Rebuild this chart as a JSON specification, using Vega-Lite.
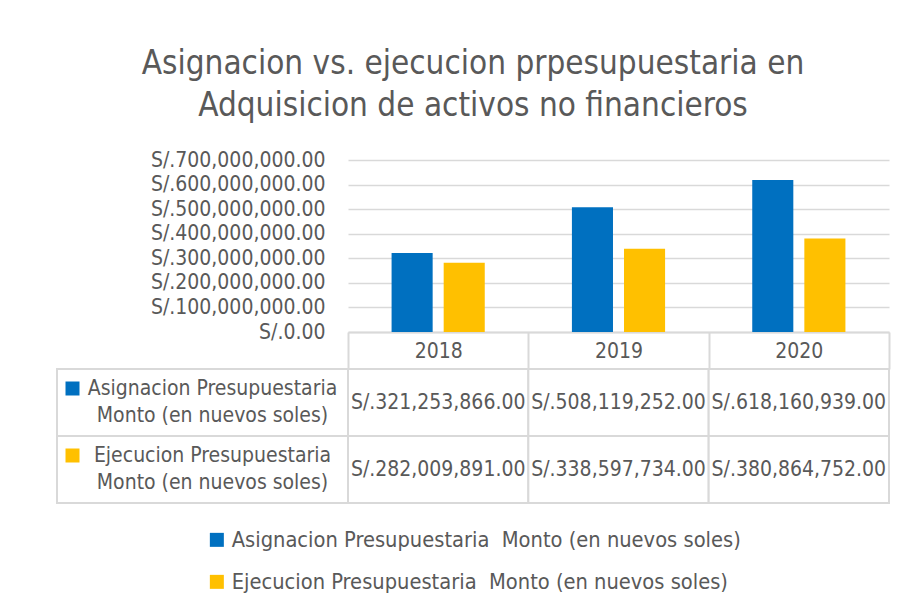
{
  "$schema": "https://vega.github.io/schema/vega-lite/v6.json",
  "background": "white",
  "padding": {"left": 56, "top": 48, "right": 13, "bottom": 8},
  "title": {
    "text": ["Asignacion vs. ejecucion prpesupuestaria en", "Adquisicion de activos no financieros"],
    "anchor": "middle",
    "fontSize": 33,
    "fontWeight": "normal",
    "color": "#595959",
    "lineHeight": 42,
    "offset": 26
  },
  "datasets": {
    "montos": [
      {"year": "2018", "serie": "Asignacion Presupuestaria \u00a0Monto (en nuevos soles)", "monto": 321253866},
      {"year": "2019", "serie": "Asignacion Presupuestaria \u00a0Monto (en nuevos soles)", "monto": 508119252},
      {"year": "2020", "serie": "Asignacion Presupuestaria \u00a0Monto (en nuevos soles)", "monto": 618160939},
      {"year": "2018", "serie": "Ejecucion Presupuestaria \u00a0Monto (en nuevos soles)", "monto": 282009891},
      {"year": "2019", "serie": "Ejecucion Presupuestaria \u00a0Monto (en nuevos soles)", "monto": 338597734},
      {"year": "2020", "serie": "Ejecucion Presupuestaria \u00a0Monto (en nuevos soles)", "monto": 380864752}
    ]
  },
  "data": {"name": "montos"},
  "columns": 2,
  "spacing": {"row": 37, "column": 0},
  "bounds": "flush",
  "concat": [
    {
      "width": 291,
      "height": 172,
      "transform": [{"filter": "datum.year == '2018' && datum.monto < 300000000"}],
      "mark": {"type": "text", "text": ""},
      "encoding": {}
    },
    {
      "width": 541,
      "height": 172,
      "mark": {"type": "bar"},
      "encoding": {
        "x": {
          "field": "year",
          "type": "nominal",
          "scale": {"paddingInner": 0, "paddingOuter": 0},
          "axis": {
            "title": null,
            "labelAngle": 0,
            "domainColor": "#D9D9D9",
            "domainWidth": 2,
            "ticks": true,
            "tickBand": "extent",
            "tickSize": 37,
            "tickColor": "#D9D9D9",
            "tickWidth": 2,
            "labelPadding": -18,
            "labelBaseline": "middle",
            "labelFontSize": 21,
            "labelColor": "#595959",
            "grid": false
          }
        },
        "xOffset": {
          "field": "serie",
          "type": "nominal",
          "scale": {"paddingInner": 0.2115, "paddingOuter": 0.8365}
        },
        "y": {
          "field": "monto",
          "type": "quantitative",
          "scale": {"domain": [0, 700000000], "nice": false},
          "axis": {
            "title": null,
            "values": [0, 100000000, 200000000, 300000000, 400000000, 500000000, 600000000, 700000000],
            "labelExpr": "'S/.' + format(datum.value, ',.2f')",
            "domain": false,
            "ticks": false,
            "grid": true,
            "gridColor": "#D9D9D9",
            "gridWidth": 1.5,
            "labelPadding": 23,
            "labelFontSize": 21,
            "labelColor": "#595959"
          }
        },
        "color": {
          "field": "serie",
          "type": "nominal",
          "scale": {"range": ["#0070C0", "#FFC000"]},
          "legend": {
            "title": null,
            "orient": "bottom",
            "direction": "vertical",
            "symbolType": "square",
            "symbolSize": 196,
            "symbolStrokeWidth": 0,
            "labelFontSize": 21.7,
            "labelColor": "#595959",
            "labelLimit": 0,
            "rowPadding": 19,
            "labelOffset": 4,
            "offset": 25
          }
        }
      }
    },
    {
      "width": 291,
      "height": 134,
      "transform": [{"filter": "datum.year == '2018'"}],
      "layer": [
        {
          "mark": {"type": "rect", "fill": "white", "stroke": "#D9D9D9", "strokeWidth": 2},
          "encoding": {
            "y": {"field": "serie", "type": "nominal", "axis": null, "scale": {"paddingInner": 0, "paddingOuter": 0}}
          }
        },
        {
          "mark": {
            "type": "text",
            "text": {"expr": "split(datum.serie, ' \u00a0')"},
            "fontSize": 21,
            "lineHeight": 27,
            "dx": 10,
            "dy": -14,
            "color": "#595959",
            "align": "center",
            "baseline": "middle"
          },
          "encoding": {
            "y": {"field": "serie", "type": "nominal", "axis": null}
          }
        },
        {
          "mark": {"type": "point", "shape": "square", "filled": true, "size": 196, "opacity": 1, "strokeWidth": 0},
          "encoding": {
            "y": {"field": "serie", "type": "nominal", "axis": null},
            "color": {"field": "serie", "type": "nominal"},
            "xOffset": {"value": -130},
            "yOffset": {"value": 19.5}
          }
        }
      ]
    },
    {
      "width": 541,
      "height": 134,
      "layer": [
        {
          "mark": {"type": "rect", "fill": "white", "stroke": "#D9D9D9", "strokeWidth": 2},
          "encoding": {
            "x": {"field": "year", "type": "nominal", "axis": null, "scale": {"paddingInner": 0, "paddingOuter": 0}},
            "y": {"field": "serie", "type": "nominal", "axis": null, "scale": {"paddingInner": 0, "paddingOuter": 0}}
          }
        },
        {
          "mark": {
            "type": "text",
            "text": {"expr": "'S/.' + format(datum.monto, ',.2f')"},
            "fontSize": 21,
            "color": "#595959",
            "align": "center",
            "baseline": "middle"
          },
          "encoding": {
            "x": {"field": "year", "type": "nominal", "axis": null},
            "y": {"field": "serie", "type": "nominal", "axis": null}
          }
        }
      ]
    }
  ],
  "config": {
    "font": "DejaVu Sans Condensed, Liberation Sans Narrow, sans-serif",
    "view": {"stroke": null},
    "legend": {"layout": {"bottom": {"anchor": "middle"}}}
  }
}
